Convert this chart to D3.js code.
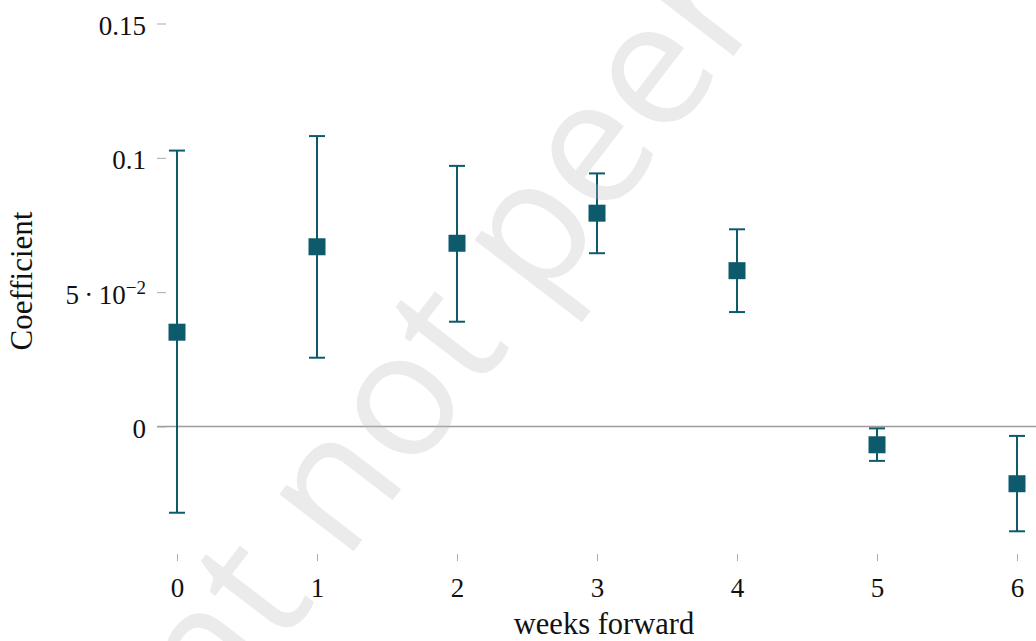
<!DOCTYPE html>
<html>
<head>
<meta charset="utf-8">
<script src="https://cdn.jsdelivr.net/npm/d3@7"></script>
<style>
  html, body { margin: 0; padding: 0; background: #ffffff; }
  svg { display: block; }
</style>
</head>
<body>
<svg id="chart" width="1036" height="641"></svg>
<script>
// Regression coefficients by horizon, with confidence bounds
const weeks = [0, 1, 2, 3, 4, 5, 6];
const coefficient = [0.0351, 0.0669, 0.0682, 0.0794, 0.0580, -0.0068, -0.0213];
const upperBound = [0.1027, 0.1081, 0.0970, 0.0942, 0.0734, -0.0007, -0.0035];
const lowerBound = [-0.0321, 0.0256, 0.0390, 0.0645, 0.0426, -0.0128, -0.0390];

const xTickValues = [0, 1, 2, 3, 4, 5, 6];
const xTickLabels = ["0", "1", "2", "3", "4", "5", "6"];
const yTickValues = [0, 0.05, 0.1, 0.15];
const yTickLabels = ["0", "5\u2009\u00b7\u200910^\u22122", "0.1", "0.15"];

const xTitle = "weeks forward";
const yTitle = "Coefficient";
const watermark = "Preprint not peer reviewed";

const teal = "#0e5a6d";
const serif = "'Liberation Serif', 'Times New Roman', serif";

const svg = d3.select("#chart");

const x = d3.scaleLinear().domain([0, 6]).range([177, 1017]);
const y = d3.scaleLinear().domain([0, 0.15]).range([426.5, 23.5]);
const plotLeft = 157;
const plotBottom = 561;

// zero reference line
svg.append("line")
  .attr("x1", plotLeft).attr("x2", 1036)
  .attr("y1", y(0)).attr("y2", y(0))
  .attr("stroke", "#9c9c9c").attr("stroke-width", 1.6);

// y axis: short inward ticks, no axis line
const yAxis = svg.append("g")
  .attr("transform", `translate(${plotLeft},0)`)
  .call(d3.axisLeft(y).tickValues(yTickValues).tickSize(-9).tickPadding(11)
    .tickFormat(() => ""));
yAxis.select(".domain").remove();
yAxis.selectAll(".tick line").attr("stroke", "#ababab").attr("stroke-width", 1);
yAxis.selectAll(".tick text").each(function(d, i) {
  const t = d3.select(this)
    .attr("font-family", serif).attr("font-size", 27)
    .attr("fill", "#111").attr("dy", "11px");
  const parts = yTickLabels[i].split("^");
  t.append("tspan").text(parts[0]);
  if (parts.length > 1) {
    t.append("tspan").attr("font-size", 19).attr("dy", "-10px").text(parts[1]);
  }
});

// x axis: short inward ticks at bottom, no axis line
const xAxis = svg.append("g")
  .attr("transform", `translate(0,${plotBottom})`)
  .call(d3.axisBottom(x).tickValues(xTickValues).tickSize(-7).tickPadding(0)
    .tickFormat((d, i) => xTickLabels[i]));
xAxis.select(".domain").remove();
xAxis.selectAll(".tick line").attr("stroke", "#ababab").attr("stroke-width", 1);
xAxis.selectAll(".tick text")
  .attr("font-family", serif).attr("font-size", 27)
  .attr("fill", "#111").attr("y", 36).attr("dy", null);

// axis titles
svg.append("text")
  .attr("x", x(3.05)).attr("y", 634)
  .attr("text-anchor", "middle")
  .attr("font-family", serif).attr("font-size", 30.5).attr("fill", "#111")
  .text(xTitle);
svg.append("text")
  .attr("transform", "translate(32,281) rotate(-90)")
  .attr("text-anchor", "middle")
  .attr("font-family", serif).attr("font-size", 31).attr("fill", "#111")
  .text(yTitle);

// error bars with caps
const capHalf = 8;
const bars = svg.append("g").attr("stroke", teal).attr("stroke-width", 2).attr("fill", "none");
bars.selectAll("line.whisker").data(weeks).join("line")
  .attr("class", "whisker")
  .attr("x1", (d) => x(d)).attr("x2", (d) => x(d))
  .attr("y1", (d, i) => y(upperBound[i])).attr("y2", (d, i) => y(lowerBound[i]));
bars.selectAll("line.capTop").data(weeks).join("line")
  .attr("class", "capTop")
  .attr("x1", (d) => x(d) - capHalf).attr("x2", (d) => x(d) + capHalf)
  .attr("y1", (d, i) => y(upperBound[i])).attr("y2", (d, i) => y(upperBound[i]));
bars.selectAll("line.capBottom").data(weeks).join("line")
  .attr("class", "capBottom")
  .attr("x1", (d) => x(d) - capHalf).attr("x2", (d) => x(d) + capHalf)
  .attr("y1", (d, i) => y(lowerBound[i])).attr("y2", (d, i) => y(lowerBound[i]));

// square markers at the point estimates
const half = 8.5;
svg.append("g").selectAll("rect").data(weeks).join("rect")
  .attr("x", (d) => x(d) - half)
  .attr("y", (d, i) => y(coefficient[i]) - half)
  .attr("width", half * 2).attr("height", half * 2)
  .attr("fill", teal);

// diagonal preprint stamp laid over the plot, placed by the "o" of "not"
const angle = -52.5;
const wm = svg.append("text")
  .attr("font-family", "'Open Sans', sans-serif")
  .attr("font-size", 175)
  .attr("fill", "#bcbcbc").attr("fill-opacity", 0.3)
  .text(watermark);
const oIndex = watermark.indexOf("not") + 1;
const node = wm.node();
const before = node.getSubStringLength(0, oIndex);
const oWidth = node.getSubStringLength(oIndex, 1);
const along = before + oWidth / 2;
const rad = angle * Math.PI / 180;
const anchorX = 442, anchorY = 436;
const ox = anchorX - along * Math.cos(rad);
const oy = anchorY - along * Math.sin(rad);
wm.attr("transform", `translate(${ox},${oy}) rotate(${angle})`);
</script>
</body>
</html>
